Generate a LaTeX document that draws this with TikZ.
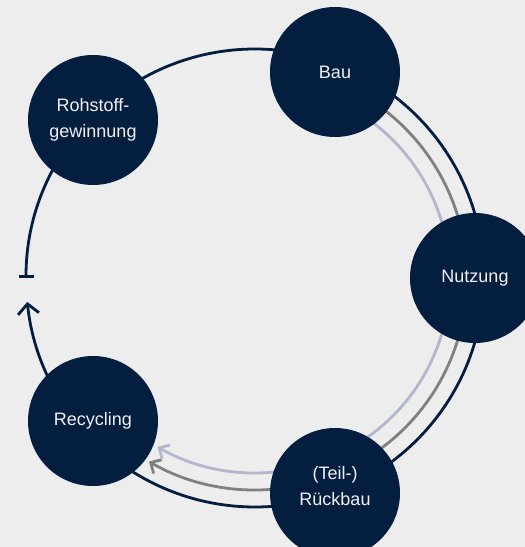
\documentclass[tikz,border=0pt]{standalone}
\usepackage{fontspec}
\setmainfont{Liberation Sans}
\usetikzlibrary{arrows.meta}

\definecolor{navy}{HTML}{041E40}
\definecolor{hgrau}{HTML}{EDEDED}
\definecolor{mgrau}{HTML}{808080}
\definecolor{lila}{HTML}{B3B6CC}

\tikzset{
  phase/.style={circle,fill=navy,text=white!94!navy,minimum size=130pt,inner sep=0pt,
    align=center,font=\fontsize{18}{25.5}\selectfont},
  kreis/.style={line width=2.8pt},
}

\begin{document}
\begin{tikzpicture}[x=1pt,y=1pt]
  \useasboundingbox[fill=hgrau] (0,0) rectangle (525,547);
  \coordinate (mitte) at (255,269);

  %% Kreislauf
  \draw[kreis,navy,{Bar[width=15pt]}-{Straight Barb[length=10pt,width=21pt]}]
    (mitte) ++(180:229pt) arc[start angle=180,end angle=-174,radius=229pt];

  %% innere Pfeile
  \draw[kreis,mgrau,-{Straight Barb[length=8pt,width=16pt]}]
    (mitte) ++(70:212pt) arc[start angle=70,end angle=-120,radius=212pt];
  \draw[kreis,lila,-{Straight Barb[length=8pt,width=16pt]}]
    (mitte) ++(70:195pt) arc[start angle=70,end angle=-120,radius=195pt];

  %% Phasen
  \node[phase] (rohstoff)  at (93,427)  {Rohstoff-\\gewinnung};
  \node[phase] (bau)       at (335,475) {Bau};
  \node[phase] (nutzung)   at (475,269) {Nutzung};
  \node[phase,text depth=14pt] (rueckbau) at (335,54) {(Teil-)\\Rückbau};
  \node[phase] (recycling) at (93,126)  {Recycling};
\end{tikzpicture}
\end{document}
